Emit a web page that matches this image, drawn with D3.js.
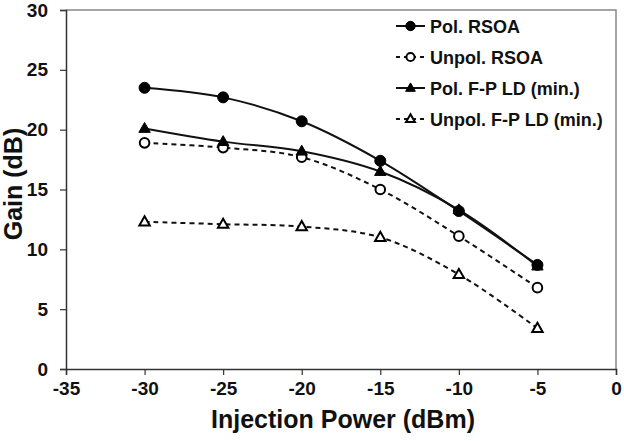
<!DOCTYPE html>
<html><head><meta charset="utf-8">
<script src="https://cdn.jsdelivr.net/npm/d3@7"></script>
<style>body{margin:0;background:#fff}svg{display:block}text{font-family:Arial,"Liberation Sans",sans-serif;font-weight:bold}</style>
</head><body><div id="chart"></div>
<script>
const xValues = [-30, -25, -20, -15, -10, -5];
const polRSOA = [23.5, 22.7, 20.7, 17.4, 13.2, 8.7];
const unpolRSOA = [18.9, 18.5, 17.7, 15.0, 11.1, 6.8];
const polFP = [20.1, 19.0, 18.2, 16.5, 13.3, 8.6];
const unpolFP = [12.3, 12.1, 11.9, 11.0, 7.9, 3.4];
const seriesNames = ["Pol. RSOA", "Unpol. RSOA", "Pol. F-P LD (min.)", "Unpol. F-P LD (min.)"];
const xTicks = [-35, -30, -25, -20, -15, -10, -5, 0];
const yTicks = [0, 5, 10, 15, 20, 25, 30];

const series = [
  {name: seriesNames[0], values: polRSOA, marker: "circle", filled: true, dashed: false},
  {name: seriesNames[1], values: unpolRSOA, marker: "circle", filled: false, dashed: true},
  {name: seriesNames[2], values: polFP, marker: "triangle", filled: true, dashed: false},
  {name: seriesNames[3], values: unpolFP, marker: "triangle", filled: false, dashed: true}
];

const W = 624, H = 441;
const m = {left: 66, right: 8, top: 10, bottom: 72};
const svg = d3.select("#chart").append("svg").attr("width", W).attr("height", H);
const x = d3.scaleLinear().domain([-35, 0]).range([m.left, W - m.right]);
const y = d3.scaleLinear().domain([0, 30]).range([H - m.bottom, m.top]);
const fmt = d => String(d);

// frame (top & right)
svg.append("path").attr("d", `M${x(-35)},${y(30)}H${x(0)}V${y(0)}`)
  .attr("fill", "none").attr("stroke", "#888").attr("stroke-width", 1.5);

const xAxis = svg.append("g").attr("transform", `translate(0,${y(0)})`)
  .call(d3.axisBottom(x).tickValues(xTicks).tickSize(6).tickPadding(7).tickFormat(fmt));
const yAxis = svg.append("g").attr("transform", `translate(${x(-35)},0)`)
  .call(d3.axisLeft(y).tickValues(yTicks).tickSize(6).tickPadding(12).tickFormat(fmt));
[xAxis, yAxis].forEach(g => {
  g.select(".domain").attr("stroke", "#333").attr("stroke-width", 1.5);
  g.selectAll(".tick line").attr("stroke", "#333").attr("stroke-width", 1.2);
  g.selectAll("text").attr("font-size", 19).attr("fill", "#111")
    .style("font-family", "Arial, 'Liberation Sans', sans-serif").style("font-weight", "bold");
});

svg.append("text").attr("x", (x(-35) + x(0)) / 2 + 2).attr("y", 428).attr("text-anchor", "middle")
  .attr("font-size", 25).attr("fill", "#111").text("Injection Power (dBm)");
svg.append("text").attr("transform", `translate(22,184) rotate(-90)`)
  .attr("text-anchor", "middle").attr("font-size", 25).attr("fill", "#111").text("Gain (dB)");

const line = d3.line().x((d, i) => x(xValues[i])).y(d => y(d)).curve(d3.curveCatmullRom.alpha(0.5));

function drawMarker(g, s, cx, cy, k) {
  k = k || 1;
  if (s.marker === "circle") {
    g.append("circle").attr("cx", cx).attr("cy", cy).attr("r", (s.filled ? 5.5 : 4.8) * k)
      .attr("fill", s.filled ? "#000" : "#fff").attr("stroke", "#000").attr("stroke-width", s.filled ? 1 : 2);
  } else {
    const r = (s.filled ? 6 : 5.5) * k;
    g.append("path").attr("d", `M${cx},${cy - r}L${cx + r * 0.95},${cy + r * 0.65}L${cx - r * 0.95},${cy + r * 0.65}Z`)
      .attr("fill", s.filled ? "#000" : "#fff").attr("stroke", "#000").attr("stroke-width", s.filled ? 1 : 2);
  }
}

series.forEach(s => {
  svg.append("path").datum(s.values).attr("d", line).attr("fill", "none")
    .attr("stroke", "#111").attr("stroke-width", 2)
    .attr("stroke-dasharray", s.dashed ? "5,4" : null);
});
series.forEach(s => {
  const g = svg.append("g");
  s.values.forEach((v, i) => drawMarker(g, s, x(xValues[i]), y(v)));
});

// legend
const lg = svg.append("g");
series.forEach((s, i) => {
  const ly = 26 + i * 31;
  lg.append("line").attr("x1", 396).attr("x2", 425).attr("y1", ly).attr("y2", ly)
    .attr("stroke", "#111").attr("stroke-width", 2).attr("stroke-dasharray", s.dashed ? "4,4" : null);
  drawMarker(lg, s, 410.5, ly, 0.85);
  lg.append("text").attr("x", 430).attr("y", ly + 6.5).attr("font-size", 18).attr("fill", "#111").text(s.name);
});
</script></body></html>
